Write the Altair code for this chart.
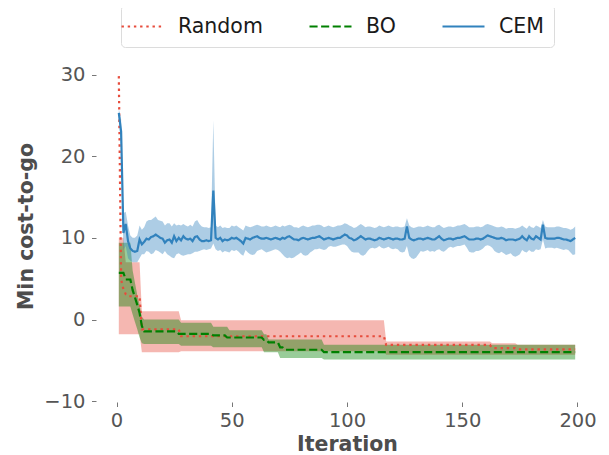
import altair as alt
import pandas as pd

# ---------------- data ----------------
methods = ["Random", "BO", "CEM"]
line_colors = ["#e74c3c", "green", "#3182bd"]
band_colors = ["#e74c3c", "green", "#3182bd"]
dash_styles = [[2.4, 3.8], [8.1, 3.5], [1, 0]]

iterations = list(range(1, 200))
x_ticks = [0, 50, 100, 150, 200]
y_ticks = [-10, 0, 10, 20, 30]

# Random search (step-shaped running minimum)
rand_mean = [29.8, 4.9, 3.7, 3.1] + [2.85] * 6 + [-1.2] * 17 + [-2.05] * 89 + [-3.1] * 46 + [-3.5] * 11 + [-3.65] * 26
rand_hi = [10.0] * 3 + [7.0] * 7 + [1.0] * 17 + [-0.1] * 89 + [-2.7] * 46 + [-2.9] * 11 + [-3.1] * 26
rand_lo = [-1.8] * 10 + [-4.0] * 17 + [-3.9] * 89 + [-4.3] * 83

# Bayesian optimisation
bo_mean = [5.7] * 3 + [4.9] * 3 + [3.6, 2.7, 1.8, 0.8, -0.8] + [-1.45] * 15 + [-1.75] * 15 + [-1.95] * 6 + [-2.2] * 16 + [-2.5] * 2 + [-2.8] * 5 + [-3.4] * 2 + [-3.7] * 17 + [-4.0] * 110
bo_hi = [9.4] * 6 + [6.0, 4.5, 3.0, 1.8, 0.3] + [0.0] * 16 + [-0.4] * 14 + [-0.9] * 7 + [-1.3] * 15 + [-1.8] * 2 + [-2.45] * 24 + [-3.1] * 110
bo_lo = [1.6] * 6 + [0.6, -0.3, -1.2, -2.2, -2.9] + [-3.0] * 16 + [-3.2] * 14 + [-3.4] * 22 + [-4.0] * 7 + [-4.7] * 19 + [-4.9] * 110

# CEM
cem_mean = [
    25.3, 23.0, 10.6, 11.7, 9.6, 8.7, 8.4, 8.3, 8.4, 9.8,
    9.2, 9.5, 9.9, 9.8, 10.1, 10.2, 10.4, 10.2, 10.0, 9.9,
    9.4, 9.7, 9.8, 9.4, 10.2, 9.6, 10.0, 9.7, 10.2, 9.9,
    9.8, 9.9, 9.6, 10.1, 10.2, 9.8, 9.6, 9.6, 9.7, 9.6,
    9.7, 15.8, 10.0, 9.8, 10.0, 9.6, 9.8, 9.7, 9.8, 10.0,
    9.9, 10.0, 9.8, 9.6, 9.3, 10.0, 9.9, 9.8, 10.0, 10.1,
    10.2, 10.0, 9.9, 9.9, 10.0, 9.9, 9.8, 9.9, 10.0, 9.9,
    9.8, 10.0, 9.9, 10.1, 10.2, 10.0, 9.8, 9.8, 9.7, 9.9,
    10.0, 9.9, 9.8, 9.9, 10.0, 10.0, 10.1, 10.2, 10.0, 9.8,
    9.9, 10.0, 9.9, 9.8, 9.9, 10.0, 10.0, 10.2, 10.4, 10.3,
    10.0, 9.9, 9.7, 9.8, 10.0, 10.2, 10.0, 9.8, 9.9, 9.9,
    9.8, 9.7, 9.8, 10.0, 9.9, 9.8, 9.9, 10.0, 9.9, 9.8,
    9.9, 9.9, 9.8, 9.8, 9.9, 11.4, 10.0, 9.8, 9.7, 9.8,
    9.9, 9.9, 9.8, 9.9, 10.0, 9.9, 9.8, 9.8, 10.0, 10.2,
    9.9, 9.7, 9.8, 9.9, 9.9, 9.8, 9.9, 10.0, 10.0, 10.1,
    10.2, 10.0, 9.8, 9.8, 9.8, 9.9, 9.9, 9.8, 9.9, 10.1,
    10.3, 10.2, 10.1, 10.0, 9.9, 9.9, 10.0, 9.9, 9.7, 9.8,
    9.8, 9.8, 9.7, 9.8, 9.9, 10.2, 9.9, 9.7, 10.2, 9.9,
    9.8, 10.2, 10.0, 9.8, 11.6, 10.0, 9.9, 9.9, 9.9, 9.9,
    10.0, 10.0, 9.9, 9.8, 9.8, 9.7, 9.6, 9.8, 10.0,
]
cem_hi = [
    25.8, 24.5, 13.0, 13.2, 11.5, 10.3, 10.0, 10.0, 10.3, 11.5,
    11.0, 11.3, 12.0, 12.2, 12.2, 12.4, 12.6, 12.2, 12.1, 12.0,
    11.5, 11.8, 11.8, 11.4, 11.8, 11.5, 11.6, 11.5, 11.7, 11.5,
    11.4, 11.6, 11.4, 12.0, 12.2, 11.7, 11.4, 11.3, 11.3, 11.2,
    11.3, 24.4, 11.5, 11.3, 11.5, 11.2, 11.3, 11.2, 11.2, 11.5,
    11.4, 11.5, 11.3, 11.1, 10.9, 11.5, 11.4, 11.3, 11.4, 11.5,
    11.6, 11.5, 11.4, 11.4, 11.5, 11.4, 11.3, 11.4, 11.5, 11.4,
    11.3, 11.5, 11.4, 11.5, 11.6, 11.5, 11.3, 11.3, 11.2, 11.4,
    11.5, 11.4, 11.3, 11.4, 11.5, 11.5, 11.6, 11.6, 11.5, 11.3,
    11.4, 11.5, 11.4, 11.3, 11.4, 11.5, 11.5, 11.6, 11.8, 11.7,
    11.5, 11.4, 11.2, 11.3, 11.5, 11.7, 11.5, 11.3, 11.4, 11.4,
    11.3, 11.2, 11.3, 11.5, 11.4, 11.3, 11.4, 11.5, 11.4, 11.3,
    11.4, 11.4, 11.3, 11.3, 11.4, 12.4, 11.5, 11.3, 11.2, 11.3,
    11.4, 11.4, 11.3, 11.4, 11.5, 11.4, 11.3, 11.3, 11.5, 11.6,
    11.4, 11.2, 11.3, 11.4, 11.4, 11.3, 11.4, 11.5, 11.5, 11.6,
    11.7, 11.5, 11.3, 11.3, 11.3, 11.4, 11.4, 11.3, 11.4, 11.6,
    11.7, 11.6, 11.5, 11.4, 11.3, 11.3, 11.4, 11.3, 11.1, 11.2,
    11.2, 11.2, 11.1, 11.2, 11.3, 11.5, 11.3, 11.1, 11.5, 11.3,
    11.2, 11.5, 11.4, 11.2, 12.2, 11.4, 11.3, 11.3, 11.3, 11.3,
    11.4, 11.4, 11.3, 11.2, 11.2, 11.1, 11.0, 11.1, 11.4,
]
cem_lo = [
    24.5, 21.0, 8.5, 9.0, 7.5, 7.2, 7.0, 7.0, 7.0, 7.5,
    8.0, 8.0, 8.4, 8.3, 8.0, 8.1, 8.5, 8.4, 8.2, 8.0,
    8.4, 8.0, 7.8, 7.6, 7.5, 8.0, 8.1, 7.9, 7.8, 7.9,
    8.0, 8.0, 8.1, 8.3, 8.3, 8.4, 8.5, 8.6, 8.5, 8.6,
    8.7, 9.3, 8.6, 8.4, 8.5, 8.2, 8.4, 8.3, 8.2, 8.5,
    8.4, 8.5, 8.3, 8.0, 7.8, 8.5, 8.2, 8.0, 7.9, 8.0,
    8.4, 8.5, 8.6, 8.4, 8.2, 8.3, 8.4, 8.5, 8.6, 8.5,
    8.3, 8.0, 7.7, 7.5, 7.6, 7.5, 7.6, 7.8, 8.0, 8.2,
    7.9, 7.8, 7.9, 8.2, 8.4, 8.6, 8.6, 8.7, 8.6, 8.5,
    8.6, 8.9, 9.0, 8.9, 8.9, 9.0, 9.1, 9.2, 9.2, 9.0,
    8.6, 8.3, 8.2, 8.2, 8.2, 7.9, 7.8, 8.0, 8.4, 8.7,
    8.8, 8.7, 8.8, 9.0, 8.8, 8.7, 8.8, 8.9, 8.7, 8.6,
    8.7, 8.6, 8.3, 8.2, 8.3, 9.0, 7.8, 7.5, 7.4, 7.6,
    8.0, 8.4, 8.3, 8.4, 8.5, 8.3, 8.4, 8.3, 8.5, 8.6,
    8.4, 8.3, 8.5, 8.8, 8.9, 8.8, 8.9, 9.0, 9.0, 9.1,
    9.2, 8.8, 8.3, 8.2, 8.2, 8.4, 8.4, 8.5, 8.7, 9.0,
    9.1, 9.0, 8.8, 8.4, 8.2, 8.1, 8.3, 8.1, 7.9, 8.0,
    8.1, 7.8, 7.7, 7.8, 8.0, 8.5, 8.3, 8.2, 8.5, 8.3,
    8.3, 8.6, 8.5, 8.6, 9.8, 8.7, 8.8, 8.8, 8.8, 8.7,
    8.8, 8.7, 8.6, 8.5, 8.6, 8.5, 8.2, 7.9, 8.0,
]

series = {
    "Random": (rand_mean, rand_lo, rand_hi),
    "BO": (bo_mean, bo_lo, bo_hi),
    "CEM": (cem_mean, cem_lo, cem_hi),
}

rows = []
for name, (mean, lo, hi) in series.items():
    assert len(mean) == len(lo) == len(hi) == len(iterations), name
    for it, m, a, b in zip(iterations, mean, lo, hi):
        rows.append({"iter": it, "method": name, "mean": m, "lo": a, "hi": b})
df = pd.DataFrame(rows)

# ---------------- chart ----------------
FONT = "DejaVu Sans"

x_enc = alt.X(
    "iter:Q",
    scale=alt.Scale(domain=[-8.9, 208.9], nice=False, zero=False),
    axis=alt.Axis(values=x_ticks, title="Iteration"),
)


def y_enc(field):
    return alt.Y(
        field,
        scale=alt.Scale(domain=[-10.1, 33], nice=False, zero=False),
        axis=alt.Axis(values=y_ticks, title="Min cost-to-go"),
    )


base = alt.Chart(df)

bands = [
    base.transform_filter(alt.datum.method == name)
    .mark_area(color=col, opacity=0.4)
    .encode(x=x_enc, y=y_enc("lo:Q"), y2="hi:Q")
    for name, col in zip(methods, band_colors)
]

# wide, flat legend symbol: a horizontal stroke longer than the symbol box
legend = alt.Legend(
    title=None,
    orient="none",
    legendX=25,
    legendY=-45,
    direction="horizontal",
    symbolType="M-2.1,0H2.1",
    symbolSize=400,
    symbolStrokeWidth=2.2,
    labelFont=FONT,
    labelFontSize=20.5,
    labelColor="#1a1a1a",
    labelOffset=24,
    columnPadding=42,
    padding=10,
    strokeColor="#dcdcdc",
    fillColor="white",
    cornerRadius=4,
)

lines = base.mark_line(strokeWidth=2.2).encode(
    x=x_enc,
    y=y_enc("mean:Q"),
    color=alt.Color("method:N", scale=alt.Scale(domain=methods, range=line_colors), legend=legend),
    strokeDash=alt.StrokeDash("method:N", scale=alt.Scale(domain=methods, range=dash_styles), legend=legend),
)

chart = (
    alt.layer(*bands, lines)
    .properties(
        width=502,
        height=352,
        padding={"left": 88, "top": 42, "right": 0, "bottom": 55},
        autosize=alt.AutoSizeParams(type="none"),
    )
    .configure_view(stroke=None)
    .configure_axis(
        domain=False,
        grid=False,
        ticks=True,
        tickColor="#777777",
        tickSize=4.5,
        labelFont=FONT,
        labelFontSize=19.5,
        labelColor="#555555",
        titleFont=FONT,
        titleFontSize=20.5,
        titleFontWeight="bold",
        titleColor="#4d4d4d",
    )
    .configure_axisX(labelPadding=5, titlePadding=4)
    .configure_axisY(labelPadding=6.5, titlePadding=7)
)

chart.save("out.html", embed_options={"renderer": "svg", "actions": False})
